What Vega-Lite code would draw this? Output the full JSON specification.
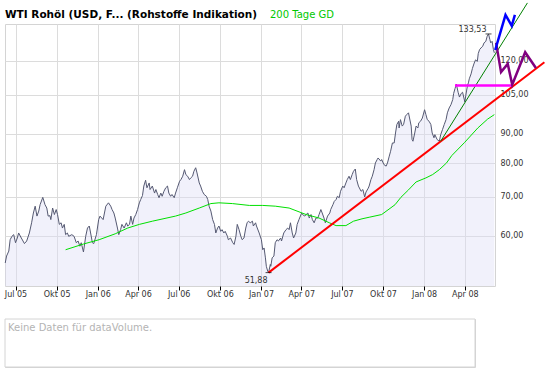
{
  "$schema": "https://vega.github.io/schema/vega-lite/v6.json",
  "background": "white",
  "padding": {"left": 2, "top": 0, "right": 0, "bottom": 0},
  "spacing": 19,
  "config": {
    "font": "DejaVu Sans",
    "view": {"stroke": "#d4d4d4"}
  },
  "datasets": {
    "kurs": [
      {"d":"2005-06-08","p":53.9},{"d":"2005-06-11","p":55.4},{"d":"2005-06-16","p":56.5},{"d":"2005-06-19","p":59.1},{"d":"2005-06-23","p":59.9},{"d":"2005-06-27","p":60.3},
      {"d":"2005-07-01","p":58.4},{"d":"2005-07-05","p":59.5},{"d":"2005-07-08","p":60.7},{"d":"2005-07-14","p":59.5},{"d":"2005-07-21","p":58.2},{"d":"2005-07-26","p":58.8},
      {"d":"2005-08-01","p":60.7},{"d":"2005-08-06","p":63.2},{"d":"2005-08-10","p":65.7},{"d":"2005-08-14","p":67.5},{"d":"2005-08-18","p":64.9},{"d":"2005-08-22","p":66.2},{"d":"2005-08-25","p":67.9},{"d":"2005-08-31","p":69.9},
      {"d":"2005-09-05","p":67.9},{"d":"2005-09-09","p":67.0},{"d":"2005-09-12","p":64.9},{"d":"2005-09-16","p":65.0},{"d":"2005-09-18","p":64.0},{"d":"2005-09-22","p":67.0},{"d":"2005-09-26","p":65.3},{"d":"2005-09-30","p":66.6},
      {"d":"2005-10-03","p":65.3},{"d":"2005-10-07","p":62.8},{"d":"2005-10-11","p":63.2},{"d":"2005-10-14","p":61.9},{"d":"2005-10-18","p":62.8},{"d":"2005-10-21","p":60.3},{"d":"2005-10-25","p":60.7},{"d":"2005-10-28","p":59.9},
      {"d":"2005-11-04","p":60.3},{"d":"2005-11-09","p":59.9},{"d":"2005-11-14","p":58.4},{"d":"2005-11-18","p":58.8},{"d":"2005-11-22","p":57.6},{"d":"2005-11-25","p":58.4},{"d":"2005-11-30","p":56.3},
      {"d":"2005-12-05","p":59.9},{"d":"2005-12-09","p":61.9},{"d":"2005-12-13","p":62.4},{"d":"2005-12-16","p":60.7},{"d":"2005-12-20","p":58.4},{"d":"2005-12-23","p":58.2},{"d":"2005-12-29","p":60.3},
      {"d":"2006-01-03","p":64.0},{"d":"2006-01-06","p":64.9},{"d":"2006-01-13","p":64.0},{"d":"2006-01-19","p":67.5},{"d":"2006-01-25","p":68.4},{"d":"2006-01-30","p":67.5},
      {"d":"2006-02-02","p":66.6},{"d":"2006-02-06","p":65.7},{"d":"2006-02-09","p":64.4},{"d":"2006-02-14","p":61.9},{"d":"2006-02-17","p":60.3},{"d":"2006-02-21","p":61.5},{"d":"2006-02-24","p":62.8},
      {"d":"2006-03-01","p":61.9},{"d":"2006-03-06","p":63.2},{"d":"2006-03-09","p":62.4},{"d":"2006-03-13","p":62.8},{"d":"2006-03-16","p":64.9},{"d":"2006-03-20","p":62.8},{"d":"2006-03-23","p":64.4},{"d":"2006-03-27","p":65.3},{"d":"2006-03-31","p":66.6},
      {"d":"2006-04-04","p":68.4},{"d":"2006-04-07","p":69.3},{"d":"2006-04-11","p":70.4},{"d":"2006-04-14","p":73.1},{"d":"2006-04-18","p":74.8},{"d":"2006-04-21","p":72.6},{"d":"2006-04-26","p":74.0},{"d":"2006-04-28","p":72.1},
      {"d":"2006-05-03","p":73.1},{"d":"2006-05-08","p":71.1},{"d":"2006-05-11","p":72.1},{"d":"2006-05-15","p":70.7},{"d":"2006-05-18","p":69.8},{"d":"2006-05-22","p":71.1},{"d":"2006-05-25","p":70.2},{"d":"2006-05-29","p":71.6},
      {"d":"2006-06-02","p":72.6},{"d":"2006-06-06","p":73.1},{"d":"2006-06-09","p":71.1},{"d":"2006-06-13","p":70.2},{"d":"2006-06-16","p":70.7},{"d":"2006-06-21","p":69.8},{"d":"2006-06-24","p":71.1},{"d":"2006-06-28","p":72.6},
      {"d":"2006-07-03","p":74.5},{"d":"2006-07-06","p":75.0},{"d":"2006-07-10","p":76.0},{"d":"2006-07-14","p":78.0},{"d":"2006-07-17","p":76.5},{"d":"2006-07-21","p":76.0},{"d":"2006-07-25","p":75.0},{"d":"2006-07-28","p":75.5},
      {"d":"2006-08-01","p":76.0},{"d":"2006-08-04","p":77.5},{"d":"2006-08-08","p":78.6},{"d":"2006-08-11","p":77.0},{"d":"2006-08-16","p":74.0},{"d":"2006-08-19","p":73.1},{"d":"2006-08-23","p":71.6},{"d":"2006-08-27","p":70.7},
      {"d":"2006-09-01","p":70.2},{"d":"2006-09-04","p":69.3},{"d":"2006-09-07","p":67.5},{"d":"2006-09-11","p":66.2},{"d":"2006-09-15","p":64.0},{"d":"2006-09-19","p":62.8},{"d":"2006-09-22","p":60.7},{"d":"2006-09-26","p":61.9},{"d":"2006-09-29","p":62.4},
      {"d":"2006-10-03","p":61.1},{"d":"2006-10-06","p":61.5},{"d":"2006-10-10","p":60.7},{"d":"2006-10-13","p":61.1},{"d":"2006-10-18","p":59.9},{"d":"2006-10-20","p":59.1},{"d":"2006-10-25","p":59.5},{"d":"2006-10-30","p":58.4},
      {"d":"2006-11-02","p":58.0},{"d":"2006-11-06","p":59.9},{"d":"2006-11-09","p":62.8},{"d":"2006-11-13","p":61.5},{"d":"2006-11-17","p":59.9},{"d":"2006-11-20","p":59.1},{"d":"2006-11-24","p":59.5},{"d":"2006-11-28","p":61.9},
      {"d":"2006-12-01","p":63.2},{"d":"2006-12-04","p":63.6},{"d":"2006-12-08","p":63.2},{"d":"2006-12-13","p":63.6},{"d":"2006-12-15","p":62.4},{"d":"2006-12-20","p":63.2},{"d":"2006-12-22","p":62.4},{"d":"2006-12-28","p":60.7},
      {"d":"2007-01-02","p":59.1},{"d":"2007-01-05","p":56.8},{"d":"2007-01-08","p":57.2},{"d":"2007-01-11","p":55.0},{"d":"2007-01-13","p":53.2},{"d":"2007-01-16","p":52.2},{"d":"2007-01-18","p":51.88},{"d":"2007-01-22","p":53.6},{"d":"2007-01-23","p":53.2},{"d":"2007-01-26","p":55.0},{"d":"2007-01-30","p":55.4},
      {"d":"2007-02-02","p":58.4},{"d":"2007-02-06","p":59.1},{"d":"2007-02-09","p":58.8},{"d":"2007-02-14","p":59.5},{"d":"2007-02-16","p":58.8},{"d":"2007-02-21","p":60.7},{"d":"2007-02-26","p":61.5},
      {"d":"2007-03-02","p":61.9},{"d":"2007-03-05","p":61.5},{"d":"2007-03-08","p":63.2},{"d":"2007-03-12","p":60.7},{"d":"2007-03-15","p":59.5},{"d":"2007-03-20","p":60.7},{"d":"2007-03-23","p":62.8},{"d":"2007-03-27","p":64.0},
      {"d":"2007-04-02","p":65.7},{"d":"2007-04-04","p":65.3},{"d":"2007-04-09","p":64.9},{"d":"2007-04-12","p":65.3},{"d":"2007-04-16","p":65.7},{"d":"2007-04-19","p":64.4},{"d":"2007-04-23","p":65.3},{"d":"2007-04-26","p":64.0},{"d":"2007-04-30","p":63.2},
      {"d":"2007-05-04","p":64.4},{"d":"2007-05-08","p":64.4},{"d":"2007-05-11","p":65.3},{"d":"2007-05-15","p":66.6},{"d":"2007-05-18","p":65.7},{"d":"2007-05-22","p":64.4},{"d":"2007-05-25","p":63.2},{"d":"2007-05-30","p":64.9},
      {"d":"2007-06-04","p":65.7},{"d":"2007-06-06","p":66.6},{"d":"2007-06-11","p":67.9},{"d":"2007-06-14","p":68.8},{"d":"2007-06-18","p":69.3},{"d":"2007-06-21","p":70.2},{"d":"2007-06-25","p":69.8},{"d":"2007-06-28","p":71.6},
      {"d":"2007-07-03","p":73.1},{"d":"2007-07-06","p":72.6},{"d":"2007-07-10","p":74.0},{"d":"2007-07-13","p":75.0},{"d":"2007-07-17","p":76.0},{"d":"2007-07-20","p":75.0},{"d":"2007-07-24","p":76.5},{"d":"2007-07-27","p":77.5},{"d":"2007-07-31","p":78.2},
      {"d":"2007-08-03","p":75.0},{"d":"2007-08-07","p":73.1},{"d":"2007-08-13","p":71.6},{"d":"2007-08-17","p":72.1},{"d":"2007-08-21","p":70.0},{"d":"2007-08-24","p":71.4},{"d":"2007-08-29","p":72.5},{"d":"2007-08-31","p":73.1},
      {"d":"2007-09-04","p":75.0},{"d":"2007-09-07","p":76.0},{"d":"2007-09-11","p":78.0},{"d":"2007-09-14","p":80.1},{"d":"2007-09-18","p":81.2},{"d":"2007-09-20","p":81.7},{"d":"2007-09-26","p":80.7},{"d":"2007-09-28","p":81.2},
      {"d":"2007-10-03","p":79.6},{"d":"2007-10-08","p":79.1},{"d":"2007-10-11","p":80.1},{"d":"2007-10-15","p":82.3},{"d":"2007-10-18","p":83.9},{"d":"2007-10-22","p":86.7},{"d":"2007-10-26","p":86.7},{"d":"2007-10-29","p":90.2},
      {"d":"2007-11-01","p":93.3},{"d":"2007-11-05","p":94.5},{"d":"2007-11-06","p":92.0},{"d":"2007-11-09","p":95.1},{"d":"2007-11-13","p":92.7},{"d":"2007-11-16","p":93.3},{"d":"2007-11-20","p":96.4},{"d":"2007-11-23","p":97.0},{"d":"2007-11-27","p":97.7},
      {"d":"2007-12-03","p":92.7},{"d":"2007-12-05","p":87.9},{"d":"2007-12-07","p":87.3},{"d":"2007-12-11","p":90.2},{"d":"2007-12-14","p":92.7},{"d":"2007-12-18","p":92.0},{"d":"2007-12-20","p":93.9},{"d":"2007-12-24","p":94.5},{"d":"2007-12-28","p":95.7},
      {"d":"2008-01-02","p":98.9},{"d":"2008-01-05","p":97.0},{"d":"2008-01-08","p":95.1},{"d":"2008-01-12","p":94.5},{"d":"2008-01-16","p":93.3},{"d":"2008-01-19","p":90.2},{"d":"2008-01-23","p":88.5},{"d":"2008-01-25","p":89.6},{"d":"2008-01-30","p":87.9},
      {"d":"2008-02-04","p":87.3},{"d":"2008-02-07","p":89.6},{"d":"2008-02-11","p":91.4},{"d":"2008-02-15","p":93.3},{"d":"2008-02-19","p":95.1},{"d":"2008-02-22","p":97.7},{"d":"2008-02-26","p":99.6},
      {"d":"2008-03-01","p":100.9},{"d":"2008-03-05","p":103.0},{"d":"2008-03-07","p":105.5},{"d":"2008-03-10","p":107.5},{"d":"2008-03-13","p":109.5},{"d":"2008-03-17","p":106.0},{"d":"2008-03-20","p":104.0},{"d":"2008-03-24","p":105.5},{"d":"2008-03-27","p":106.0},
      {"d":"2008-04-01","p":102.0},{"d":"2008-04-03","p":104.5},{"d":"2008-04-07","p":108.9},{"d":"2008-04-09","p":110.0},{"d":"2008-04-11","p":111.8},{"d":"2008-04-15","p":114.0},{"d":"2008-04-18","p":116.5},{"d":"2008-04-22","p":119.0},{"d":"2008-04-25","p":120.5},{"d":"2008-04-29","p":119.8},
      {"d":"2008-05-01","p":123.5},{"d":"2008-05-04","p":125.5},{"d":"2008-05-07","p":126.3},{"d":"2008-05-11","p":127.2},{"d":"2008-05-14","p":128.9},{"d":"2008-05-18","p":129.7},{"d":"2008-05-21","p":132.3},{"d":"2008-05-24","p":133.53},{"d":"2008-05-27","p":130.6},{"d":"2008-05-29","p":128.9},
      {"d":"2008-06-01","p":129.7},{"d":"2008-06-04","p":125.5},{"d":"2008-06-06","p":123.9}
    ],
    "gd": [
      {"d":"2005-10-21","p":56.8,"s":"200 Tage GD"},{"d":"2005-11-30","p":58.1,"s":"200 Tage GD"},{"d":"2006-01-04","p":59.1,"s":"200 Tage GD"},{"d":"2006-02-09","p":60.5,"s":"200 Tage GD"},
      {"d":"2006-03-09","p":61.9,"s":"200 Tage GD"},{"d":"2006-04-04","p":62.8,"s":"200 Tage GD"},{"d":"2006-05-03","p":63.6,"s":"200 Tage GD"},{"d":"2006-06-24","p":64.9,"s":"200 Tage GD"},
      {"d":"2006-07-17","p":65.7,"s":"200 Tage GD"},{"d":"2006-08-16","p":67.0,"s":"200 Tage GD"},{"d":"2006-09-11","p":68.2,"s":"200 Tage GD"},{"d":"2006-09-29","p":68.4,"s":"200 Tage GD"},
      {"d":"2006-10-29","p":68.2,"s":"200 Tage GD"},{"d":"2006-12-06","p":67.7,"s":"200 Tage GD"},{"d":"2007-01-05","p":67.7,"s":"200 Tage GD"},{"d":"2007-02-02","p":67.5,"s":"200 Tage GD"},
      {"d":"2007-03-05","p":67.0,"s":"200 Tage GD"},{"d":"2007-04-12","p":65.3,"s":"200 Tage GD"},{"d":"2007-05-11","p":64.4,"s":"200 Tage GD"},{"d":"2007-06-03","p":63.2,"s":"200 Tage GD"},
      {"d":"2007-06-18","p":62.5,"s":"200 Tage GD"},{"d":"2007-07-10","p":62.5,"s":"200 Tage GD"},{"d":"2007-07-27","p":63.6,"s":"200 Tage GD"},{"d":"2007-08-15","p":64.2,"s":"200 Tage GD"},
      {"d":"2007-08-31","p":64.6,"s":"200 Tage GD"},{"d":"2007-09-28","p":65.3,"s":"200 Tage GD"},{"d":"2007-10-28","p":67.9,"s":"200 Tage GD"},{"d":"2007-11-10","p":69.9,"s":"200 Tage GD"},
      {"d":"2007-11-27","p":72.0,"s":"200 Tage GD"},{"d":"2007-12-14","p":74.3,"s":"200 Tage GD"},{"d":"2008-01-05","p":75.5,"s":"200 Tage GD"},{"d":"2008-01-20","p":76.5,"s":"200 Tage GD"},
      {"d":"2008-02-04","p":78.0,"s":"200 Tage GD"},{"d":"2008-02-20","p":80.1,"s":"200 Tage GD"},{"d":"2008-03-03","p":82.5,"s":"200 Tage GD"},{"d":"2008-03-31","p":86.8,"s":"200 Tage GD"},
      {"d":"2008-04-30","p":92.0,"s":"200 Tage GD"},{"d":"2008-05-22","p":95.3,"s":"200 Tage GD"},{"d":"2008-06-06","p":97.0,"s":"200 Tage GD"}
    ],
    "rot": [{"d":"2007-01-18","p":51.88},{"d":"2008-09-26","p":119.4}],
    "gruen": [{"d":"2008-02-07","p":87.3},{"d":"2008-08-19","p":151.0}],
    "magenta": [{"d":"2008-03-10","p":108.9},{"d":"2008-07-16","p":108.9}],
    "blau": [{"d":"2008-06-08","p":125.3},{"d":"2008-07-01","p":144.0},{"d":"2008-07-15","p":137.9},{"d":"2008-07-22","p":144.0}],
    "lila": [{"d":"2008-06-10","p":128.9},{"d":"2008-06-21","p":114.8},{"d":"2008-07-06","p":118.6},{"d":"2008-07-16","p":109.2},{"d":"2008-08-14","p":124.2},{"d":"2008-09-07","p":116.7}],
    "hoch": [{"d":"2008-05-24","p":133.53,"t":"133,53"}],
    "tief": [{"d":"2007-01-18","p":51.88,"t":"51,88"}],
    "volumen": [{"x0":0,"x1":1,"y0":0,"y1":1,"t":"Keine Daten für dataVolume."}]
  },
  "vconcat": [
    {
      "width": 490,
      "height": 262,
      "title": {"text": "WTI Rohöl (USD, F... (Rohstoffe Indikation)", "anchor": "start", "frame": "group", "offset": -28, "baseline": "alphabetic", "font": "DejaVu Sans", "fontSize": 10.5, "fontWeight": "bold", "color": "#000000"},
      "encoding": {
        "x": {"field": "d", "type": "temporal",
          "scale": {"type": "utc", "domain": [{"year": 2005, "month": 6, "date": 7, "hours": 12, "utc": true}, {"year": 2008, "month": 6, "date": 7, "hours": 12, "utc": true}]},
          "axis": {"title": null, "grid": true, "gridColor": "#dcdcdc", "domain": false, "ticks": true, "tickColor": "#000000", "tickSize": 4, "labelFontSize": 8, "labelColor": "#333333", "labelPadding": 0, "labelFlush": false, "labelOverlap": false,
            "values": [{"year":2005,"month":7,"date":1,"utc":true},{"year":2005,"month":10,"date":1,"utc":true},{"year":2006,"month":1,"date":1,"utc":true},{"year":2006,"month":4,"date":1,"utc":true},{"year":2006,"month":7,"date":1,"utc":true},{"year":2006,"month":10,"date":1,"utc":true},{"year":2007,"month":1,"date":1,"utc":true},{"year":2007,"month":4,"date":1,"utc":true},{"year":2007,"month":7,"date":1,"utc":true},{"year":2007,"month":10,"date":1,"utc":true},{"year":2008,"month":1,"date":1,"utc":true},{"year":2008,"month":4,"date":1,"utc":true}],
            "labelExpr": "['Jan','Feb','Mär','Apr','Mai','Jun','Jul','Aug','Sep','Okt','Nov','Dez'][utcmonth(datum.value)] + ' ' + utcFormat(datum.value, '%y')"}},
        "y": {"field": "p", "type": "quantitative",
          "scale": {"type": "log", "domain": [49.2, 138.9], "nice": false},
          "axis": {"orient": "right", "title": null, "values": [60, 70, 80, 90, 105, 120], "grid": true, "gridColor": "#dcdcdc", "domain": false, "ticks": false, "labelPadding": 5, "labelFontSize": 8, "labelColor": "#333333",
            "labelExpr": "replace(format(datum.value, '.2f'), '.', ',')"}}
      },
      "layer": [
        {"data": {"name": "kurs"}, "mark": {"type": "area", "color": "#dcdcf5", "opacity": 0.4}, "encoding": {"y2": {"datum": 49.2}}},
        {"data": {"name": "kurs"}, "mark": {"type": "line", "color": "#555972", "strokeWidth": 1}, "encoding": {}},
        {"data": {"name": "gd"}, "mark": {"type": "line", "strokeWidth": 1}, "encoding": {
          "color": {"field": "s", "type": "nominal", "scale": {"domain": ["200 Tage GD"], "range": ["#00e000"]},
            "legend": {"orient": "none", "legendX": 255, "legendY": -14, "title": null, "padding": 0, "symbolSize": 0, "symbolOpacity": 0, "symbolStrokeWidth": 0, "labelOffset": 0, "labelFont": "DejaVu Sans", "labelFontSize": 10, "labelColor": "#00c800"}}}},
        {"data": {"name": "rot"}, "mark": {"type": "line", "color": "#ff0000", "strokeWidth": 2, "clip": false}, "encoding": {}},
        {"data": {"name": "gruen"}, "mark": {"type": "line", "color": "#008000", "strokeWidth": 1, "clip": false}, "encoding": {}},
        {"data": {"name": "magenta"}, "mark": {"type": "line", "color": "#ff00ff", "strokeWidth": 2.5, "clip": false}, "encoding": {}},
        {"data": {"name": "lila"}, "mark": {"type": "line", "color": "#800080", "strokeWidth": 2.5, "clip": false}, "encoding": {}},
        {"data": {"name": "blau"}, "mark": {"type": "line", "color": "#0000ff", "strokeWidth": 2.5, "clip": false}, "encoding": {}},
        {"data": {"name": "hoch"}, "mark": {"type": "tick", "orient": "horizontal", "color": "#000000", "size": 6, "thickness": 1}, "encoding": {}},
        {"data": {"name": "tief"}, "mark": {"type": "tick", "orient": "horizontal", "color": "#000000", "size": 6, "thickness": 1}, "encoding": {}},
        {"data": {"name": "hoch"}, "mark": {"type": "text", "align": "right", "baseline": "alphabetic", "dx": -2, "dy": -2, "fontSize": 8, "color": "#333333"}, "encoding": {"text": {"field": "t"}}},
        {"data": {"name": "tief"}, "mark": {"type": "text", "align": "right", "baseline": "alphabetic", "dx": -1, "dy": 10, "fontSize": 8, "color": "#333333"}, "encoding": {"text": {"field": "t"}}}
      ]
    },
    {
      "width": 470,
      "height": 48,
      "data": {"name": "volumen"},
      "encoding": {
        "x": {"field": "x0", "type": "quantitative", "scale": {"domain": [0, 1], "nice": false, "zero": false}, "axis": null},
        "y": {"field": "y1", "type": "quantitative", "scale": {"domain": [0, 1], "nice": false, "zero": false}, "axis": null}
      },
      "layer": [
        {"mark": {"type": "rect", "fill": "#ffffff", "stroke": "#d4d4d4", "strokeWidth": 1}, "encoding": {"x2": {"field": "x1"}, "y": {"field": "y0", "type": "quantitative"}, "y2": {"field": "y1"}}},
        {"mark": {"type": "text", "align": "left", "baseline": "alphabetic", "dx": 3, "dy": 12, "fontSize": 10, "color": "#b4b4b4"}, "encoding": {"text": {"field": "t"}}}
      ]
    }
  ]
}
